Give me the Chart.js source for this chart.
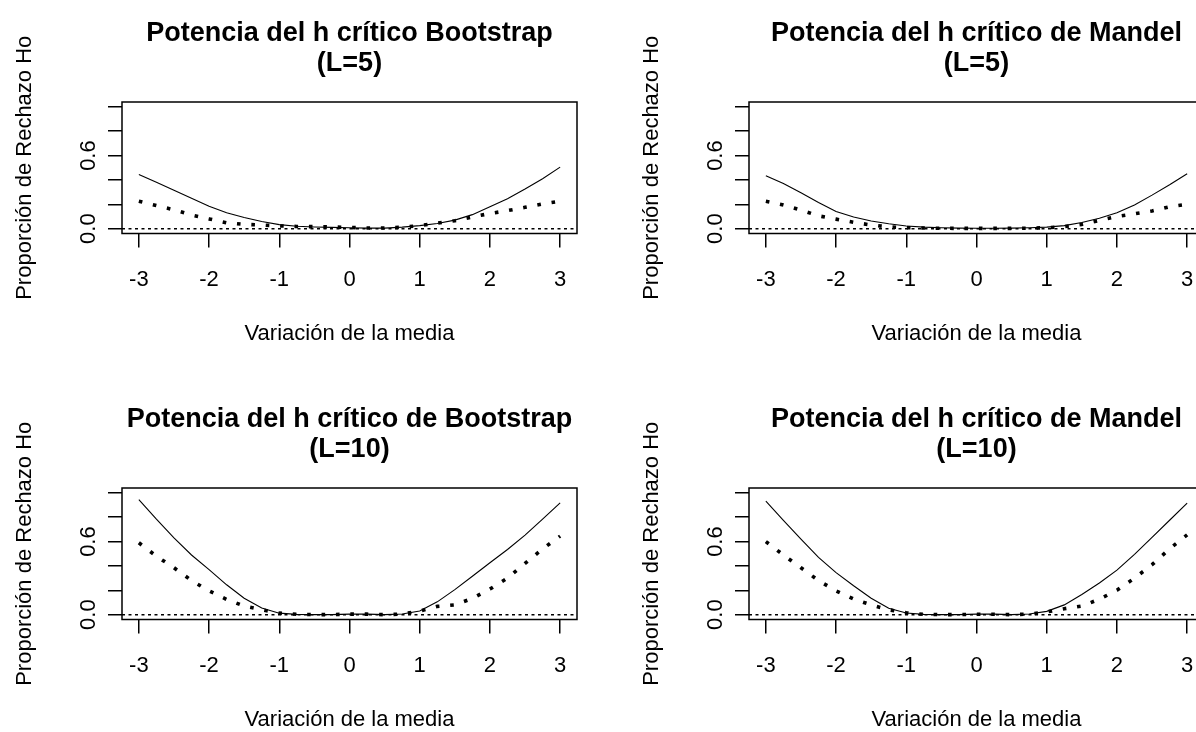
<!DOCTYPE html>
<html>
<head>
<meta charset="utf-8">
<script src="https://cdn.jsdelivr.net/npm/chart.js@4.4.1/dist/chart.umd.min.js"></script>
<style>
html, body { margin: 0; padding: 0; background: #fff; }
#wrap { position: relative; width: 1196px; height: 732px; overflow: hidden; background: #fff; }
.panel { position: absolute; width: 627px; height: 386px; }
</style>
</head>
<body>
<div id="wrap">
  <div class="panel" style="left:0px;top:0px"><canvas id="c0"></canvas></div>
  <div class="panel" style="left:627px;top:0px"><canvas id="c1"></canvas></div>
  <div class="panel" style="left:0px;top:386px"><canvas id="c2"></canvas></div>
  <div class="panel" style="left:627px;top:386px"><canvas id="c3"></canvas></div>
</div>
<script>
// ---------------- data ----------------
const xValues = [-3, -2.75, -2.5, -2.25, -2, -1.75, -1.5, -1.25, -1, -0.75, -0.5, -0.25, 0,
                 0.25, 0.5, 0.75, 1, 1.25, 1.5, 1.75, 2, 2.25, 2.5, 2.75, 3];

const bootL5Solid = [0.444, 0.38, 0.315, 0.25, 0.183, 0.13, 0.092, 0.058, 0.033, 0.02, 0.014, 0.01, 0.007,
                     0.004, 0.004, 0.012, 0.025, 0.042, 0.07, 0.115, 0.18, 0.245, 0.325, 0.41, 0.505];
const bootL5Dotted = [0.225, 0.19, 0.155, 0.112, 0.08, 0.048, 0.035, 0.03, 0.022, 0.018, 0.016, 0.014, 0.01,
                      0.005, 0.005, 0.012, 0.025, 0.045, 0.065, 0.096, 0.124, 0.148, 0.175, 0.203, 0.225];

const mandelL5Solid = [0.435, 0.37, 0.295, 0.215, 0.14, 0.095, 0.063, 0.04, 0.022, 0.012, 0.007, 0.004, 0.003,
                       0.003, 0.004, 0.007, 0.012, 0.025, 0.05, 0.085, 0.13, 0.195, 0.275, 0.36, 0.45];
const mandelL5Dotted = [0.225, 0.195, 0.152, 0.105, 0.078, 0.052, 0.03, 0.014, 0.008, 0.005, 0.003, 0.002, 0.002,
                        0.002, 0.002, 0.004, 0.008, 0.016, 0.035, 0.068, 0.1, 0.122, 0.145, 0.18, 0.2];

const bootL10Solid = [0.945, 0.784, 0.63, 0.49, 0.37, 0.245, 0.135, 0.055, 0.012, 0.002, 0, 0, 0.004,
                      0.004, 0, 0.005, 0.03, 0.105, 0.205, 0.315, 0.426, 0.535, 0.653, 0.785, 0.918];
const bootL10Dotted = [0.59, 0.48, 0.385, 0.28, 0.195, 0.125, 0.07, 0.04, 0.012, 0.003, 0, 0, 0.004,
                       0.004, 0, 0.004, 0.03, 0.068, 0.08, 0.133, 0.21, 0.3, 0.42, 0.54, 0.645];

const mandelL10Solid = [0.932, 0.775, 0.62, 0.47, 0.345, 0.237, 0.135, 0.052, 0.014, 0.002, 0, 0, 0.004,
                        0.004, 0, 0.005, 0.027, 0.08, 0.165, 0.26, 0.365, 0.495, 0.635, 0.775, 0.915];
const mandelL10Dotted = [0.6, 0.49, 0.385, 0.28, 0.195, 0.128, 0.08, 0.04, 0.015, 0.002, 0, 0, 0.003,
                         0.003, 0, 0.004, 0.022, 0.049, 0.07, 0.127, 0.2, 0.3, 0.41, 0.54, 0.655];

const refLevel = 0;

const xTicks = [-3, -2, -1, 0, 1, 2, 3];
const xTickLabels = ['-3', '-2', '-1', '0', '1', '2', '3'];
const yTicks = [0, 0.2, 0.4, 0.6, 0.8, 1.0];
const yTickLabels = ['0.0', '', '', '0.6', '', ''];
const xRange = [-3.24, 3.24];
const yRange = [-0.04, 1.04];

const xTitle = 'Variación de la media';
const yTitle = 'Proporción de Rechazo Ho';
const panelTitles = [
  ['Potencia del h crítico Bootstrap', '(L=5)'],
  ['Potencia del h crítico de Mandel', '(L=5)'],
  ['Potencia del h crítico de Bootstrap', '(L=10)'],
  ['Potencia del h crítico de Mandel', '(L=10)']
];
const panelSeries = [
  [bootL5Solid, bootL5Dotted],
  [mandelL5Solid, mandelL5Dotted],
  [bootL10Solid, bootL10Dotted],
  [mandelL10Solid, mandelL10Dotted]
];

// ---------------- styling ----------------
const FAMILY = "'Liberation Sans', Arial, Helvetica, sans-serif";
const regularFont = { family: FAMILY, size: 22, weight: 'normal' };
const INK = '#000';

const rPlotPlugin = {
  id: 'rPlot',
  afterDatasetsDraw(chart) {
    const a = chart.chartArea;
    const ctx = chart.ctx;
    ctx.save();
    ctx.strokeStyle = INK;
    ctx.lineWidth = 1.5;
    ctx.strokeRect(a.left, a.top, a.right - a.left, a.bottom - a.top);
    ctx.restore();
  },
  afterDraw(chart, args, opts) {
    const a = chart.chartArea;
    const ctx = chart.ctx;
    const cx = (a.left + a.right) / 2;
    ctx.save();
    ctx.fillStyle = INK;
    ctx.font = 'bold 27px ' + FAMILY;
    ctx.textAlign = 'center';
    ctx.textBaseline = 'middle';
    (opts.lines || []).forEach((t, i) => {
      ctx.fillText(t, cx, opts.y[i]);
    });
    ctx.restore();
  }
};

function makeChart(id, titleLines, solid, dotted) {
  const ctx = document.getElementById(id);
  return new Chart(ctx, {
    type: 'line',
    data: {
      datasets: [
        {
          data: xValues.map((x, i) => ({ x: x, y: solid[i] })),
          borderColor: INK, borderWidth: 1.1, pointRadius: 0, fill: false, tension: 0
        },
        {
          data: xValues.map((x, i) => ({ x: x, y: dotted[i] })),
          borderColor: INK, borderWidth: 3.6, borderDash: [3.6, 10.8], borderCapStyle: 'butt',
          pointRadius: 0, fill: false, tension: 0
        },
        {
          data: [{ x: xRange[0], y: refLevel }, { x: xRange[1], y: refLevel }],
          borderColor: INK, borderWidth: 1.5, borderDash: [3, 3.5], borderCapStyle: 'butt',
          pointRadius: 0, fill: false
        }
      ]
    },
    options: {
      responsive: true,
      maintainAspectRatio: false,
      animation: false,
      events: [],
      layout: { padding: { left: 0, top: 102, right: 50, bottom: 0 } },
      plugins: {
        legend: { display: false },
        tooltip: { enabled: false },
        title: { display: false },
        rPlot: { lines: titleLines, y: [34, 64] }
      },
      scales: {
        x: {
          type: 'linear',
          position: 'bottom',
          min: xRange[0], max: xRange[1],
          afterBuildTicks: (s) => { s.ticks = xTicks.map(v => ({ value: v })); },
          afterFit: (s) => { s.height = 152.5; },
          ticks: {
            autoSkip: false, maxRotation: 0, minRotation: 0, padding: 19,
            font: regularFont, color: INK,
            callback: (v, i) => xTickLabels[i]
          },
          grid: { drawOnChartArea: false, drawTicks: true, tickLength: 14, color: INK, lineWidth: 1.5 },
          border: { display: false },
          title: { display: true, text: xTitle, font: regularFont, color: INK, padding: { top: 0, bottom: 39 } }
        },
        y: {
          type: 'linear',
          position: 'left',
          min: yRange[0], max: yRange[1],
          afterBuildTicks: (s) => { s.ticks = yTicks.map(v => ({ value: v })); },
          afterFit: (s) => { s.width = 122; },
          ticks: {
            autoSkip: false, minRotation: 90, maxRotation: 90, crossAlign: 'center', padding: 4,
            font: regularFont, color: INK,
            callback: (v, i) => yTickLabels[i]
          },
          grid: { drawOnChartArea: false, drawTicks: true, tickLength: 14, color: INK, lineWidth: 1.5 },
          border: { display: false },
          title: { display: true, text: yTitle, font: regularFont, color: INK, padding: { top: 12, bottom: 0 } }
        }
      }
    },
    plugins: [rPlotPlugin]
  });
}

panelTitles.forEach((t, i) => makeChart('c' + i, t, panelSeries[i][0], panelSeries[i][1]));
</script>
</body>
</html>
